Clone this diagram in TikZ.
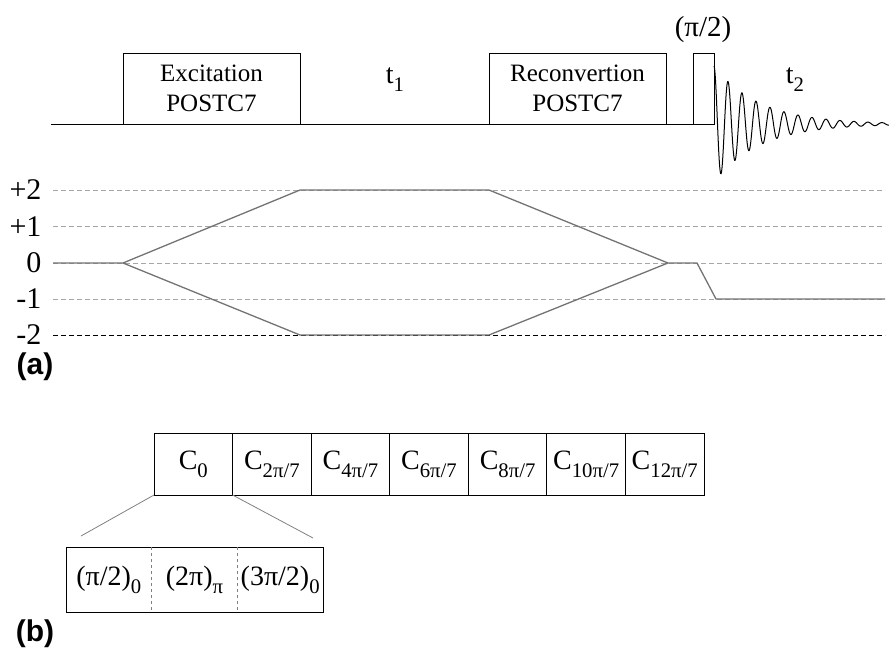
\documentclass[tikz,border=0pt]{standalone}
\usepackage{graphicx}
\usepackage{fontspec}
\setmainfont{Liberation Serif}
\newfontfamily\labfont{Liberation Sans}
\usetikzlibrary{positioning,calc}
\newcommand{\lsub}[1]{\raisebox{-0.28em}{\scalebox{0.74}{#1}}}

\begin{document}
\begin{tikzpicture}[x=1pt,y=-1pt,
  pulse/.style={draw,line width=0.9pt,inner sep=0pt,outer sep=0pt,minimum height=71pt,
    align=center,font=\fontsize{25}{30}\selectfont},
  cbox/.style={draw,line width=0.9pt,inner sep=0pt,outer sep=0pt,minimum width=78.57pt,
    minimum height=62pt,font=\fontsize{28}{28}\selectfont},
  subbox/.style={inner sep=0pt,outer sep=0pt,minimum width=85.67pt,minimum height=65pt,
    font=\fontsize{28}{28}\selectfont},
  lvl/.style={dashed,dash pattern=on 5pt off 3pt,line width=0.8pt},
  path/.style={black!55,line width=1.3pt,line join=round},
  panel/.style={font=\labfont\bfseries\fontsize{30}{30}\selectfont}]
\useasboundingbox (0,0) rectangle (889,648);
% (a) pulse sequence
\coordinate (start) at (51,124);
\node[pulse,minimum width=177pt,anchor=south west] (exc) at (123,124) {Excitation\\POSTC7};
\node[pulse,minimum width=177pt,anchor=south west] (rec) at (489,124) {Reconvertion\\POSTC7};
\node[pulse,minimum width=21pt,anchor=south west] (pi) at (693,124) {};
\draw[line width=0.9pt] (start) -- (pi.south west);
\node[font=\fontsize{29}{29}\selectfont] (pilab) at (703,30) {(π/2)};
\node[font=\fontsize{28}{28}\selectfont] (tone) at (395,80) {t\lsub{1}};
\node[font=\fontsize{28}{28}\selectfont] (ttwo) at (795,80) {t\lsub{2}};
% FID
\draw[line width=1pt] plot[domain=714:889,samples=500,smooth]
  (\x,{124-58*exp(-(\x-714)/45)*cos((\x-714)*25.714)});
% coherence levels
\foreach \lv/\yy/\col [count=\i] in {+2/190/gray!70,+1/226.5/gray!70,0/263/gray!70,-1/299/gray!70,-2/335/black} {
  \draw[lvl,\col] (53,\yy) -- (885,\yy);
  \node[anchor=east,font=\fontsize{30}{30}\selectfont] (lev\i) at (45,\yy) {\lv};
}
% coherence transfer pathways
\draw[path] (53,263) -- (123,263) -- (300,190) -- (489,190) -- (668,263);
\draw[path] (123,263) -- (300,335) -- (489,335) -- (668,263) -- (697,263) -- (716,299) -- (885,299);
\node[panel] (lba) at (35,367) {(a)};
% (b) POST-C7 cycle
\node[cbox,anchor=north west] (c0) at (154,433) {C\lsub{0}};
\foreach \lab [count=\i, remember=\i as \j (initially 0)] in {2π/7,4π/7,6π/7,8π/7,10π/7,12π/7}
  \node[cbox,right=0pt of c\j] (c\i) {C\lsub{\lab}};
\node[subbox,anchor=north west] (s1) at (66,547) {(π/2)\lsub{0}};
\node[subbox,right=0pt of s1] (s2) {(2π)\lsub{π}};
\node[subbox,right=0pt of s2] (s3) {(3π/2)\lsub{0}};
\draw[line width=0.9pt] (s1.north west) rectangle (s3.south east);
\draw[dashed,gray] (s1.north east) -- (s1.south east);
\draw[dashed,gray] (s2.north east) -- (s2.south east);
\coordinate (zl) at (81,536);
\coordinate (zr) at (313,538);
\draw[gray,line width=0.8pt] (c0.south west) -- (zl);
\draw[gray,line width=0.8pt] (c0.south east) -- (zr);
\node[panel] (lbb) at (35,634) {(b)};
\end{tikzpicture}
\end{document}
